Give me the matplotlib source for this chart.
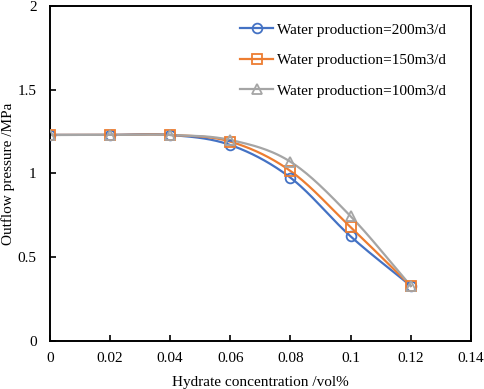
import numpy as np
import matplotlib
matplotlib.use("Agg")
import matplotlib.pyplot as plt

plt.rcParams['font.family'] = ['Liberation Serif', 'DejaVu Serif']

x = [0, 0.02, 0.04, 0.06, 0.08, 0.1, 0.12]
q200 = [1.23, 1.23, 1.23, 1.17, 0.975, 0.625, 0.33]
q150 = [1.23, 1.23, 1.23, 1.19, 1.015, 0.68, 0.33]
q100 = [1.23, 1.23, 1.23, 1.20, 1.07, 0.745, 0.33]
labels = ['Water production=200m3/d', 'Water production=150m3/d', 'Water production=100m3/d']
colors = ['#4472C4', '#ED7D31', '#A5A5A5']
markers = ['o', 's', '^']


def smooth(xs, ys, n=30):
    xs = np.asarray(xs, float)
    ys = np.asarray(ys, float)
    px = np.concatenate([[2 * xs[0] - xs[1]], xs, [2 * xs[-1] - xs[-2]]])
    py = np.concatenate([[2 * ys[0] - ys[1]], ys, [2 * ys[-1] - ys[-2]]])
    ox, oy = [], []
    t = np.linspace(0, 1, n, endpoint=False)
    for i in range(1, len(px) - 2):
        p0, p1, p2, p3 = [np.array([px[j], py[j]]) for j in range(i - 1, i + 3)]
        c1 = p1 + (p2 - p0) / 6
        c2 = p2 - (p3 - p1) / 6
        b = ((1 - t) ** 3)[:, None] * p1 + (3 * (1 - t) ** 2 * t)[:, None] * c1 \
            + (3 * (1 - t) * t ** 2)[:, None] * c2 + (t ** 3)[:, None] * p2
        ox.extend(b[:, 0]); oy.extend(b[:, 1])
    ox.append(xs[-1]); oy.append(ys[-1])
    return np.array(ox), np.array(oy)


fig = plt.figure(figsize=(4.84, 3.89), dpi=100)
ax = fig.add_axes([0.103, 0.123, 0.870, 0.862])

for ys, c, m, lab in zip([q200, q150, q100], colors, markers, labels):
    sx, sy = smooth(x, ys)
    ax.plot(sx, sy, color=c, lw=1.6, zorder=2)
    ax.plot(x, ys, ls='none', marker=m, ms=7, mfc='none', mec=c, mew=1.3, zorder=3)
    ax.plot([], [], color=c, lw=1.6, marker=m, ms=7, mfc='none', mec=c, mew=1.3, label=lab)

ax.set_xlim(0, 0.14)
ax.set_ylim(0, 2)
ax.set_xticks([0, 0.02, 0.04, 0.06, 0.08, 0.1, 0.12, 0.14])
ax.set_xticklabels(['0', '0.02', '0.04', '0.06', '0.08', '0.1', '0.12', '0.14'])
ax.set_yticks([0, 0.5, 1, 1.5, 2])
ax.set_yticklabels(['0', '0.5', '1', '1.5', '2'])
ax.tick_params(direction='in', length=4, width=1.2, labelsize=11)
ax.tick_params(axis='y', pad=9.5)
ax.tick_params(axis='x', pad=8)
for s in ax.spines.values():
    s.set_linewidth(1.4)
ax.set_xlabel('Hydrate concentration /vol%', fontsize=11, labelpad=8)
ax.set_ylabel('Outflow pressure /MPa', fontsize=11, labelpad=2)

ax.legend(loc='upper right', frameon=False, fontsize=11, labelspacing=1.1,
          handlelength=2.2, handletextpad=0.2, bbox_to_anchor=(0.972, 0.99))

fig.savefig('out.png', dpi=100)
